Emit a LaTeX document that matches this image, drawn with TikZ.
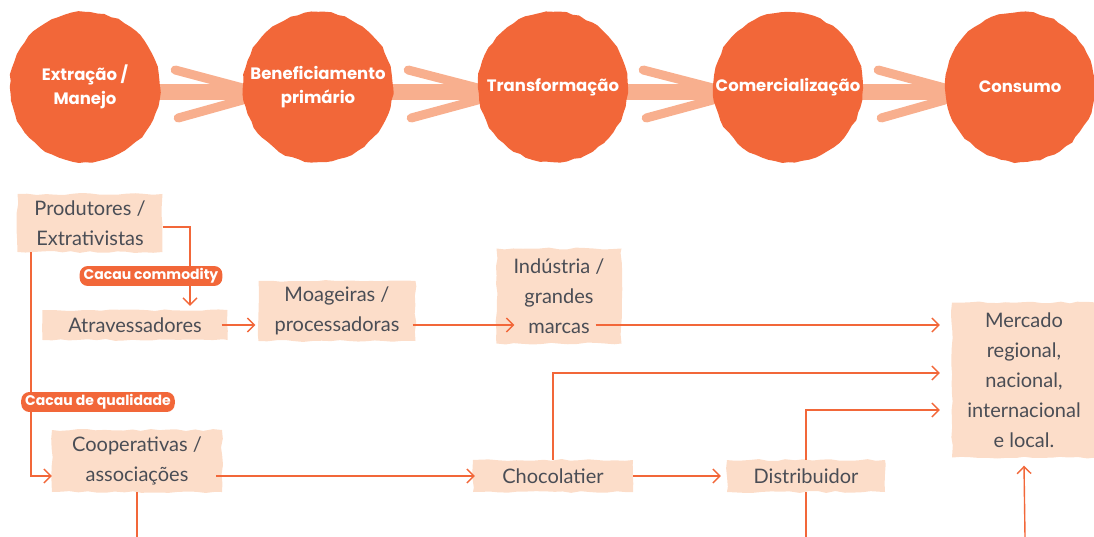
\documentclass[tikz,border=0pt]{standalone}
\usepackage{fontspec}
\setmainfont{Lato}
\newfontfamily\labfont{Poppins}
\usetikzlibrary{arrows.meta,decorations.pathmorphing,calc,backgrounds}
\definecolor{orng}{HTML}{F26739}
\definecolor{band}{HTML}{F8AF8E}
\definecolor{peach}{HTML}{FCDDC9}
\definecolor{txt}{HTML}{4A4D55}
\begin{document}
\begin{tikzpicture}[x=1pt,y=-1pt,
 stage/.style={circle, fill=orng, minimum size=150pt, inner sep=0pt, decorate,
   decoration={random steps, segment length=7pt, amplitude=0.9pt}, text=white,
   font=\labfont\bfseries\fontsize{16.5}{24}\selectfont, align=center},
 box/.style={fill=peach, inner sep=0pt, text=txt, align=center,
   font=\fontsize{20}{30}\selectfont, decorate,
   decoration={random steps, segment length=9pt, amplitude=1pt}},
 pill/.style={fill=orng, rounded corners=8pt, text=white,
   font=\labfont\bfseries\fontsize{14}{16}\selectfont, inner xsep=4pt, inner ysep=2.5pt},
 conn/.style={draw=orng, line width=1.4pt, -{Straight Barb[length=7pt,width=14pt]}},
 plain/.style={draw=orng, line width=1.4pt},
 arm/.style={draw=band, line width=9pt, line cap=round},
 bandline/.style={draw=band, line width=16pt},
]
\useasboundingbox (0,0) rectangle (1094,537);

% stages
\node[stage] (c1) at (85,87) {Extração /\\Manejo};
\node[stage] (c2) at (318,87) {Beneficiamento\\primário};
\node[stage] (c3) at (553,87) {Transformação};
\node[stage] (c4) at (788,87) {Comercialização};
\node[stage] (c5) at (1020,87) {Consumo};

\begin{scope}[on background layer]
\foreach \a/\b in {c1/c2,c2/c3,c3/c4,c4/c5}{
  \draw[bandline] ([yshift=-5pt]\a.center) -- ([yshift=-5pt]\b.center);
  \draw[arm] ($(\a.east)+(15,-17)$) -- ($(\b.west)+(0,1)$);
  \draw[arm] ($(\a.east)+(18,31)$) -- ($(\b.west)+(0,13)$);
}
\end{scope}

% boxes
\node[box, minimum width=145pt, minimum height=58pt] (prod) at (90,223) {Produtores /\\Extrativistas};
\node[box, minimum width=185pt, minimum height=30pt] (atr) at (135,325) {Atravessadores};
\node[box, minimum width=157pt, minimum height=60pt] (moa) at (337,311) {Moageiras /\\processadoras};
\node[box, minimum width=125pt, minimum height=95pt] (ind) at (559,296) {Indústria /\\grandes\\marcas};
\node[box, minimum width=144pt, minimum height=155pt] (merc) at (1024,380) {Mercado\\regional,\\nacional,\\internacional\\e local.};
\node[box, minimum width=170pt, minimum height=62pt] (coop) at (137,461) {Cooperativas /\\associações};
\node[box, minimum width=160pt, minimum height=32pt] (choc) at (553,476) {Chocolatier};
\node[box, minimum width=158pt, minimum height=32pt] (dist) at (806,476) {Distribuidor};

\coordinate (r1) at (0,325);
\coordinate (r2) at (0,373);
\coordinate (r3) at (0,410);
\coordinate (r4) at (0,476);
\coordinate (b1) at (137,537);
\coordinate (b2) at (806,537);
\coordinate (b3) at (1025,537);

% connectors
\draw[conn] ([yshift=-4pt]prod.east) -| ([xshift=55pt,yshift=4pt]atr.north);
\draw[conn] ([xshift=-59pt]prod.south) |- ([yshift=-15pt]coop.west);
\draw[conn] ([xshift=-6pt]atr.east) -- ($(moa.west |- r1)+(-3,0)$);
\draw[conn] ($(moa.east |- r1)+(-3,0)$) -- ($(ind.west |- r1)+(18,0)$);
\draw[conn] ($(ind.east |- r1)+(-26,0)$) -- ($(merc.west |- r1)+(-12,0)$);
\draw[conn] (choc.north) |- ($(merc.west |- r2)+(-12,0)$);
\draw[conn] (dist.north) |- ($(merc.west |- r3)+(-12,0)$);
\draw[conn] ($(coop.east |- r4)+(-6,0)$) -- ($(choc.west)+(2,0)$);
\draw[conn] (choc.east) -- ($(dist.west)+(-6,0)$);
\draw[plain] (coop.south) -- (b1);
\draw[plain] (dist.south) -- (b2);
\draw[conn] (b3) -- ($(merc.south)+(0,8)$);

% labels
\node[pill] (comm) at (151,276) {Cacau commodity};
\node[pill] (qual) at (98,402) {Cacau de qualidade};
\end{tikzpicture}
\end{document}
